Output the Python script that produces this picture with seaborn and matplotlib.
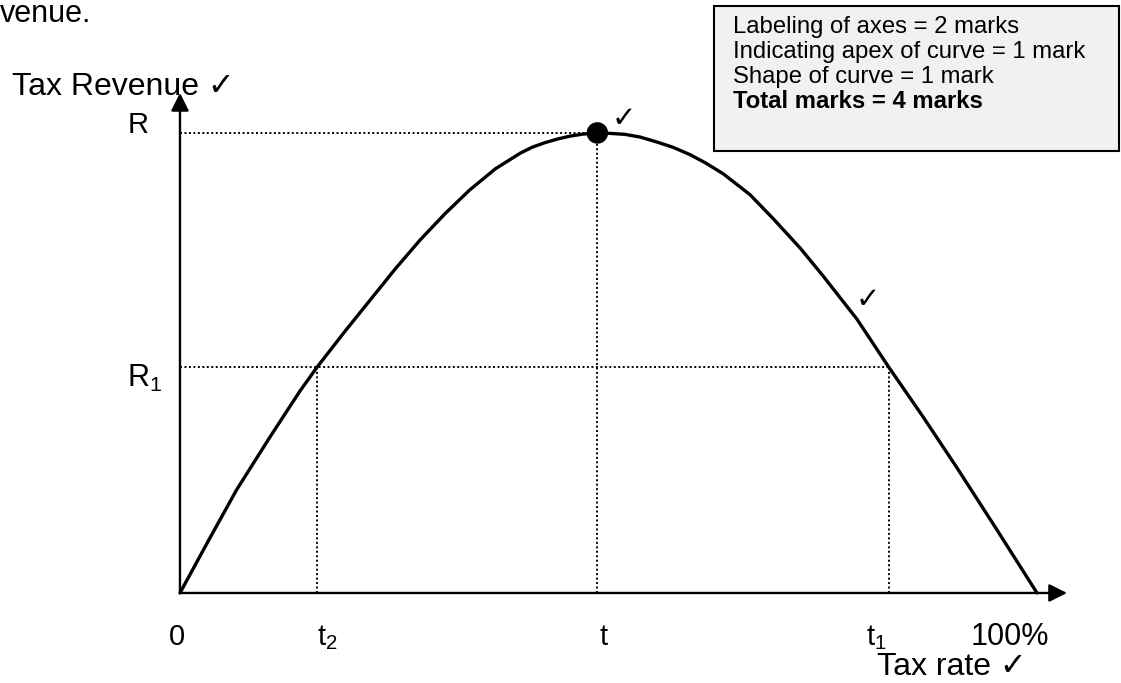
import matplotlib
matplotlib.use("Agg")
import matplotlib.pyplot as plt
from matplotlib.patches import Rectangle
import seaborn as sns

sns.set_style("white")
plt.rcParams['font.family'] = ['Liberation Sans', 'DejaVu Sans']
plt.rcParams['text.color'] = 'black'
plt.rcParams['mathtext.fontset'] = 'custom'
plt.rcParams['mathtext.rm'] = 'Liberation Sans'
plt.rcParams['mathtext.it'] = 'Liberation Sans'

# Laffer curve (tax rate in %, revenue with R = 100)
tax_rate = [0, 3.3, 6.6, 10.5, 14.0, 16.0, 19.3, 22.2, 25.1, 28.0, 30.9, 33.8,
            36.8, 39.7, 41.1, 42.6, 44.1, 45.5, 47.0, 48.7, 50.2, 51.9, 53.7,
            55.7, 57.5, 59.5, 61.4, 63.4, 66.5, 69.2, 72.4, 75.0, 79.0, 82.7,
            86.7, 90.7, 95.3, 100]
revenue = [0, 11.3, 22.4, 33.9, 43.9, 49.1, 57.0, 63.7, 70.4, 76.7, 82.4, 87.6,
           92.2, 95.6, 96.9, 97.9, 98.7, 99.3, 99.75, 100, 99.9, 99.7, 99.1,
           98.0, 96.9, 95.3, 93.4, 91.1, 86.6, 81.4, 74.9, 69.0, 59.5, 49.1,
           38.3, 27.1, 13.8, 0]

# marked levels
t_star, R_top = 48.7, 100
t2, t1, R1 = 16.0, 82.7, 49.1
x_end, y_end = 103.5, 108.7   # arrow tips

box_lines = ["Labeling of axes = 2 marks",
             "Indicating apex of curve = 1 mark",
             "Shape of curve = 1 mark",
             "Total marks = 4 marks"]

fig = plt.figure(figsize=(11.21, 6.83), dpi=100)
ax = fig.add_axes([0, 0, 1, 1])
ax.set_xlim(-21.0, 109.8)
ax.set_ylim(-19.57, 128.9)
ax.set_axis_off()

# dotted guide lines
dot = dict(color='black', lw=1.4, ls=(0, (1, 1.3)))
ax.plot([0, t_star], [R_top, R_top], **dot)
ax.plot([t_star, t_star], [0, R_top], **dot)
ax.plot([0, t1], [R1, R1], **dot)
ax.plot([t2, t2], [0, R1], **dot)
ax.plot([t1, t1], [0, R1], **dot)

# the curve
sns.lineplot(x=tax_rate, y=revenue, color='black', lw=2.4, estimator=None,
             sort=False, ax=ax, zorder=3, solid_joinstyle='round')
sns.scatterplot(x=[t_star], y=[R_top], color='black', s=240, ax=ax,
                zorder=4, edgecolor='none')

# axes with arrows
arr = dict(arrowstyle='-|>', color='black', lw=1.7, mutation_scale=27,
           shrinkA=0, shrinkB=0)
ax.annotate('', xy=(0, y_end), xytext=(0, 0), arrowprops=arr)
ax.annotate('', xy=(x_end, 0), xytext=(0, 0), arrowprops=arr)

# labels
ax.text(-19.6, 108.3, "Tax Revenue \u2713", fontsize=23, va='baseline')
ax.text(-3.7, R_top, "R", fontsize=21, ha='right', va='baseline')
ax.text(-6.2, R1 - 4.3, r"$\mathregular{R_1}$", fontsize=22, va='baseline')

ax.text(-0.35, -11.3, "0", fontsize=21, ha='center', va='baseline')
ax.text(t2, -11.3, r"$\mathregular{t_2}$", fontsize=21, va='baseline')
ax.text(t_star + 0.3, -11.3, "t", fontsize=21, va='baseline')
ax.text(t1 - 2.6, -11.3, r"$\mathregular{t_1}$", fontsize=21, va='baseline')
ax.text(92.2, -11.3, "100%", fontsize=22, va='baseline')
ax.text(81.3, -17.9, "Tax rate \u2713", fontsize=23, va='baseline')

# checkmarks
ax.text(51.8, 103.0, "\u2713", fontsize=21, ha='center', va='center')
ax.text(80.3, 63.7, "\u2713", fontsize=21, ha='center', va='center')

# text cut off at the top-left
ax.text(0.0, 0.968, "venue.", fontsize=22, transform=ax.transAxes,
        va='baseline', ha='left')

# marking box
ax.add_patch(Rectangle((0.637, 0.779), 0.3613, 0.2123, transform=ax.transAxes,
                       facecolor='#f1f1f1', edgecolor='black', lw=1.5,
                       zorder=5))
ys = [0.9517, 0.9151, 0.8785, 0.8419]
for i, line in enumerate(box_lines):
    ax.text(0.654, ys[i], line, fontsize=17.2, transform=ax.transAxes,
            va='baseline', zorder=6,
            fontweight='bold' if i == 3 else 'normal')

fig.savefig("out.png", dpi=100)
